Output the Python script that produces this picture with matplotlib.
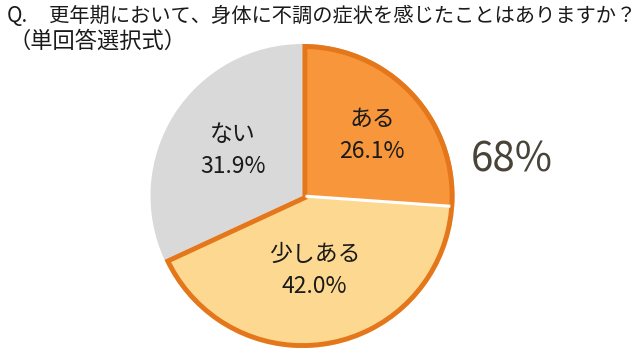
import matplotlib
matplotlib.use("Agg")
import matplotlib.pyplot as plt
from matplotlib.patches import Wedge
import numpy as np

plt.rcParams['font.family'] = ['Noto Sans CJK JP', 'DejaVu Sans']

q_mark = "Q."
title = "更年期において、身体に不調の症状を感じたことはありますか？"
subtitle = "（単回答選択式）"
labels = ["ある", "少しある", "ない"]
values = [26.1, 42.0, 31.9]
colors = ["#F7963A", "#FDD890", "#D9D9D9"]
group_total = "68%"

# label positions inside the pie (pie units)
label_pos = [(0.457, 0.40), (0.08, -0.49), (-0.457, 0.30)]

fig = plt.figure(figsize=(6.4, 3.58), dpi=100)
ax = fig.add_axes([150.5 / 640, 10 / 358, 304 / 640, 304 / 358])

wedges, _ = ax.pie(values, colors=colors, startangle=90, counterclock=False,
                   radius=1, wedgeprops=dict(linewidth=0))
ax.set_xlim(-1, 1)
ax.set_ylim(-1, 1)
ax.set_aspect('equal')

# orange outline around "ある" + "少しある" (inner stroke)
t1 = wedges[1].theta1
t2 = wedges[0].theta2
outline = Wedge((0, 0), 1, t1, t2, facecolor='none', edgecolor='#E4761B', linewidth=7)
ax.add_patch(outline)
clip = Wedge((0, 0), 1, t1, t2, transform=ax.transData)
outline.set_clip_path(clip)

# white separator between the two orange slices
ang = np.deg2rad(wedges[0].theta1)
ax.plot([0.02 * np.cos(ang), 0.975 * np.cos(ang)], [0.02 * np.sin(ang), 0.975 * np.sin(ang)],
        color='white', linewidth=2.2, solid_capstyle='butt')

for lab, val, (x, y) in zip(labels, values, label_pos):
    ax.text(x, y, f"{lab}\n{val:.1f}%", ha='center', va='center', fontsize=16.5,
            color='#1a1a1a', linespacing=1.5)

fig.text(7 / 640, 1 - 16 / 358, q_mark, ha='left', va='center', fontsize=15, color='#1a1a1a')
fig.text(49 / 640, 1 - 16 / 358, title, ha='left', va='center', fontsize=14.6, color='#1a1a1a')
fig.text(8 / 640, 1 - 41 / 358, subtitle, ha='left', va='center', fontsize=16, color='#1a1a1a')
fig.text(471 / 640, 1 - 160 / 358, group_total, ha='left', va='center', fontsize=29, color='#484438')

fig.savefig("out.png", dpi=100)
